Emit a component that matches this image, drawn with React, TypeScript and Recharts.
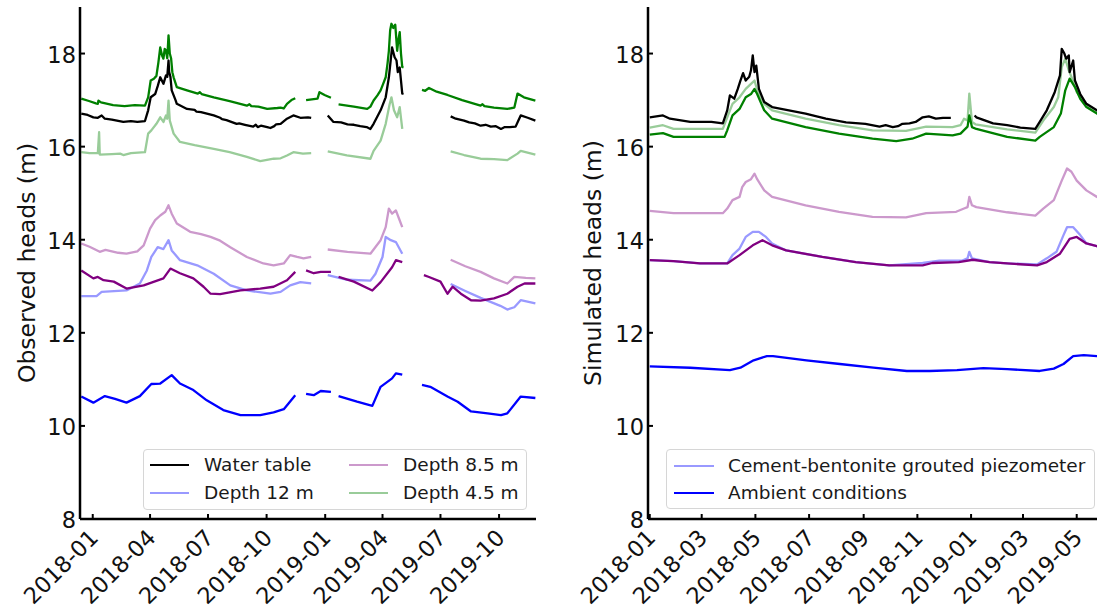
import React from 'react';
import { LineChart, Line, XAxis, YAxis, Legend } from 'recharts';

type P = [string, number | null];

// ---------- axis settings ----------
const leftTickLabels = ['2018-01', '2018-04', '2018-07', '2018-10', '2019-01', '2019-04', '2019-07', '2019-10'];
const rightTickLabels = ['2018-01', '2018-03', '2018-05', '2018-07', '2018-09', '2018-11', '2019-01', '2019-03', '2019-05'];
const yTicks = [8, 10, 12, 14, 16, 18];
const yDomain: [number, number] = [8, 19];
const leftDomainDates = ['2017-12-12', '2019-11-28'];
const rightDomainDates = ['2017-12-30', '2019-06-01'];

// ---------- observed heads (left panel) ----------
const obsDarkGreen: P[] = [
  ['2017-12-14', 17.03], ['2017-12-26', 16.98], ['2018-01-06', 16.93], ['2018-01-09', 16.92], ['2018-01-10', 16.99],
  ['2018-01-14', 16.95], ['2018-02-02', 16.89], ['2018-02-20', 16.87], ['2018-03-08', 16.89], ['2018-03-24', 16.88],
  ['2018-03-29', 17.06], ['2018-04-02', 17.42], ['2018-04-07', 17.46], ['2018-04-11', 17.52], ['2018-04-14', 17.8],
  ['2018-04-17', 18.13], ['2018-04-20', 17.95], ['2018-04-22', 17.89], ['2018-04-24', 18.1], ['2018-04-26', 18.06],
  ['2018-04-28', 17.9], ['2018-04-30', 18.39], ['2018-05-02', 18.0], ['2018-05-04', 17.9], ['2018-05-06', 17.6],
  ['2018-05-08', 17.49], ['2018-05-13', 17.28], ['2018-05-29', 17.21], ['2018-06-15', 17.14], ['2018-06-18', 17.17],
  ['2018-06-21', 17.13], ['2018-07-10', 17.06], ['2018-08-04', 16.98], ['2018-08-31', 16.88], ['2018-09-04', 16.91],
  ['2018-09-07', 16.87], ['2018-09-18', 16.86], ['2018-10-02', 16.81], ['2018-10-18', 16.83],
  ['2018-10-23', 16.84], ['2018-10-28', 16.82], ['2018-11-02', 16.92], ['2018-11-09', 17.0], ['2018-11-15', 17.04],
  ['2018-11-25', null],
  ['2018-12-02', 17.0], ['2018-12-14', 17.02], ['2018-12-20', 17.03], ['2018-12-23', 17.17], ['2018-12-31', 17.11],
  ['2019-01-10', 17.05],
  ['2019-01-16', null],
  ['2019-01-22', 16.91], ['2019-02-15', 16.86], ['2019-03-08', 16.81], ['2019-03-13', 16.86], ['2019-03-18', 16.99],
  ['2019-03-24', 17.1], ['2019-03-29', 17.21], ['2019-04-02', 17.35], ['2019-04-06', 17.49], ['2019-04-09', 17.8],
  ['2019-04-11', 18.06], ['2019-04-13', 18.5], ['2019-04-15', 18.64], ['2019-04-18', 18.55], ['2019-04-21', 18.62],
  ['2019-04-24', 18.06], ['2019-04-26', 18.3], ['2019-04-28', 18.46], ['2019-04-30', 18.0], ['2019-05-02', 17.71],
  ['2019-05-04', 17.7],
  ['2019-05-18', null],
  ['2019-06-02', 17.22], ['2019-06-07', 17.2], ['2019-06-13', 17.26], ['2019-06-25', 17.18], ['2019-07-12', 17.11],
  ['2019-08-04', 17.0], ['2019-09-02', 16.88], ['2019-09-05', 16.91], ['2019-09-08', 16.87], ['2019-09-23', 16.84],
  ['2019-10-14', 16.81], ['2019-10-21', 16.83],
  ['2019-10-25', 16.84], ['2019-10-30', 17.14], ['2019-11-09', 17.06], ['2019-11-27', 16.99],
];

const obsWaterTable: P[] = [
  ['2017-12-14', 16.71], ['2017-12-24', 16.68], ['2018-01-02', 16.63], ['2018-01-09', 16.62], ['2018-01-15', 16.67],
  ['2018-01-20', 16.6], ['2018-01-31', 16.58], ['2018-02-18', 16.53], ['2018-03-02', 16.55], ['2018-03-12', 16.53],
  ['2018-03-24', 16.55], ['2018-03-29', 16.78], ['2018-04-02', 17.06], ['2018-04-09', 17.13], ['2018-04-13', 17.3],
  ['2018-04-17', 17.49], ['2018-04-22', 17.35], ['2018-04-26', 17.53], ['2018-04-28', 17.5], ['2018-04-30', 17.85],
  ['2018-05-01', 17.6], ['2018-05-03', 17.5], ['2018-05-05', 17.21], ['2018-05-11', 17.0], ['2018-05-13', 16.92],
  ['2018-05-29', 16.81], ['2018-06-10', 16.79], ['2018-06-13', 16.75], ['2018-06-20', 16.74], ['2018-07-10', 16.67],
  ['2018-07-20', 16.62], ['2018-07-23', 16.59], ['2018-07-30', 16.57], ['2018-08-15', 16.49], ['2018-08-19', 16.5],
  ['2018-08-28', 16.47], ['2018-09-10', 16.43], ['2018-09-14', 16.47], ['2018-09-17', 16.42], ['2018-09-22', 16.45],
  ['2018-10-02', 16.42], ['2018-10-07', 16.4], ['2018-10-13', 16.44], ['2018-10-16', 16.48], ['2018-10-23', 16.49],
  ['2018-11-02', 16.6], ['2018-11-12', 16.67], ['2018-11-23', 16.62], ['2018-12-05', 16.63],
  ['2018-12-10', 16.62],
  ['2018-12-20', null],
  ['2019-01-05', 16.67], ['2019-01-14', 16.53], ['2019-01-26', 16.52], ['2019-02-05', 16.48], ['2019-02-15', 16.47],
  ['2019-02-25', 16.44], ['2019-03-07', 16.42], ['2019-03-13', 16.38], ['2019-03-18', 16.49], ['2019-03-29', 16.78],
  ['2019-04-06', 17.06], ['2019-04-11', 17.49], ['2019-04-16', 18.13], ['2019-04-20', 17.92], ['2019-04-23', 17.85],
  ['2019-04-25', 17.6], ['2019-04-28', 17.7], ['2019-05-02', 17.14], ['2019-05-04', 17.15],
  ['2019-05-30', null],
  ['2019-07-17', 16.65], ['2019-07-25', 16.6], ['2019-08-07', 16.56], ['2019-08-15', 16.52], ['2019-08-24', 16.5],
  ['2019-09-02', 16.45], ['2019-09-10', 16.47], ['2019-09-18', 16.43], ['2019-09-26', 16.44], ['2019-10-04', 16.38],
  ['2019-10-10', 16.42], ['2019-10-18', 16.42], ['2019-10-27', 16.43], ['2019-10-31', 16.55],
  ['2019-11-04', 16.67], ['2019-11-15', 16.62], ['2019-11-27', 16.56],
];

const obsDepth45: P[] = [
  ['2017-12-14', 15.88], ['2017-12-27', 15.86], ['2018-01-09', 15.86], ['2018-01-11', 16.31], ['2018-01-12', 15.83],
  ['2018-01-31', 15.84], ['2018-02-13', 15.85], ['2018-02-18', 15.82], ['2018-03-02', 15.86], ['2018-03-24', 15.88],
  ['2018-03-29', 16.28], ['2018-04-03', 16.35], ['2018-04-11', 16.49], ['2018-04-17', 16.63], ['2018-04-22', 16.53],
  ['2018-04-26', 16.67], ['2018-04-28', 16.6], ['2018-04-30', 16.99], ['2018-05-02', 16.56], ['2018-05-08', 16.28],
  ['2018-05-18', 16.1], ['2018-06-10', 16.03], ['2018-07-10', 15.95], ['2018-08-04', 15.88], ['2018-08-31', 15.78],
  ['2018-09-21', 15.69], ['2018-10-12', 15.74], ['2018-10-23', 15.75], ['2018-11-02', 15.81], ['2018-11-12', 15.88],
  ['2018-11-27', 15.85], ['2018-12-10', 15.86],
  ['2018-12-20', null],
  ['2019-01-05', 15.9], ['2019-02-04', 15.81], ['2019-03-13', 15.74], ['2019-03-18', 15.91], ['2019-03-29', 16.13],
  ['2019-04-06', 16.49], ['2019-04-12', 16.9], ['2019-04-15', 17.06], ['2019-04-19', 16.78], ['2019-04-24', 16.63],
  ['2019-04-28', 16.85], ['2019-05-02', 16.38],
  ['2019-05-30', null],
  ['2019-07-17', 15.9], ['2019-08-07', 15.82], ['2019-09-02', 15.74], ['2019-09-23', 15.73], ['2019-10-14', 15.71],
  ['2019-10-30', 15.85], ['2019-11-04', 15.91], ['2019-11-27', 15.83],
];

const obsDepth85: P[] = [
  ['2017-12-14', 13.92], ['2017-12-27', 13.85], ['2018-01-12', 13.74], ['2018-01-21', 13.78], ['2018-02-10', 13.72],
  ['2018-02-23', 13.7], ['2018-03-12', 13.75], ['2018-03-22', 13.88], ['2018-04-01', 14.24], ['2018-04-09', 14.42],
  ['2018-04-17', 14.52], ['2018-04-25', 14.6], ['2018-04-30', 14.74], ['2018-05-05', 14.56], ['2018-05-13', 14.35],
  ['2018-06-03', 14.17], ['2018-06-20', 14.12], ['2018-07-05', 14.06], ['2018-07-20', 13.98], ['2018-08-05', 13.84],
  ['2018-08-31', 13.63], ['2018-09-26', 13.49], ['2018-10-12', 13.45], ['2018-10-28', 13.49], ['2018-11-07', 13.67],
  ['2018-11-18', 13.63], ['2018-11-28', 13.6], ['2018-12-10', 13.63],
  ['2018-12-20', null],
  ['2019-01-05', 13.79], ['2019-02-05', 13.74], ['2019-03-13', 13.7], ['2019-03-29', 13.99], ['2019-04-06', 14.27],
  ['2019-04-11', 14.67], ['2019-04-16', 14.56], ['2019-04-22', 14.63], ['2019-04-27', 14.45], ['2019-05-02', 14.27],
  ['2019-05-30', null],
  ['2019-07-17', 13.57], ['2019-08-09', 13.43], ['2019-09-02', 13.31], ['2019-09-23', 13.17], ['2019-10-14', 13.06],
  ['2019-10-25', 13.2], ['2019-11-12', 13.18], ['2019-11-27', 13.17],
];

const obsDepth12: P[] = [
  ['2017-12-14', 12.79], ['2018-01-07', 12.79], ['2018-01-15', 12.88], ['2018-02-23', 12.91], ['2018-03-16', 13.06],
  ['2018-03-27', 13.34], ['2018-04-03', 13.63], ['2018-04-13', 13.84], ['2018-04-22', 13.8], ['2018-04-30', 13.99],
  ['2018-05-05', 13.77], ['2018-05-18', 13.56], ['2018-06-14', 13.45], ['2018-07-10', 13.27], ['2018-08-05', 13.02],
  ['2018-08-31', 12.91], ['2018-10-07', 12.84], ['2018-10-23', 12.88], ['2018-11-07', 13.02], ['2018-11-23', 13.09],
  ['2018-12-10', 13.06],
  ['2018-12-20', null],
  ['2019-01-05', 13.24], ['2019-02-05', 13.14], ['2019-03-13', 13.12], ['2019-03-21', 13.27], ['2019-04-01', 13.63],
  ['2019-04-06', 14.06], ['2019-04-14', 13.99], ['2019-04-22', 13.95], ['2019-05-02', 13.7],
  ['2019-05-30', null],
  ['2019-07-17', 13.05], ['2019-08-09', 12.9], ['2019-09-02', 12.75], ['2019-10-03', 12.58], ['2019-10-14', 12.5],
  ['2019-10-25', 12.55], ['2019-11-04', 12.7], ['2019-11-27', 12.63],
];

const obsDarkPurple: P[] = [
  ['2017-12-14', 13.34], ['2018-01-02', 13.17], ['2018-01-09', 13.2], ['2018-01-18', 13.13], ['2018-02-03', 13.1],
  ['2018-02-23', 12.95], ['2018-03-22', 13.02], ['2018-04-22', 13.17], ['2018-05-03', 13.38], ['2018-05-18', 13.28],
  ['2018-06-08', 13.17], ['2018-06-24', 12.99], ['2018-07-05', 12.84], ['2018-07-20', 12.83], ['2018-08-21', 12.91],
  ['2018-09-21', 12.95], ['2018-10-12', 12.99], ['2018-11-02', 13.13], ['2018-11-15', 13.31],
  ['2018-11-25', null],
  ['2018-12-02', 13.34], ['2018-12-14', 13.28], ['2018-12-25', 13.31], ['2019-01-10', 13.31],
  ['2019-01-16', null],
  ['2019-01-22', 13.2], ['2019-02-15', 13.1], ['2019-03-16', 12.91], ['2019-03-29', 13.09], ['2019-04-16', 13.41],
  ['2019-04-22', 13.56], ['2019-05-02', 13.52],
  ['2019-05-18', null],
  ['2019-06-05', 13.24], ['2019-06-13', 13.2], ['2019-07-01', 13.1], ['2019-07-12', 12.84], ['2019-07-20', 12.99],
  ['2019-08-02', 12.84], ['2019-08-18', 12.7], ['2019-09-02', 12.69], ['2019-09-23', 12.74], ['2019-10-14', 12.84],
  ['2019-10-30', 12.99], ['2019-11-10', 13.06], ['2019-11-27', 13.06],
];

const obsDarkBlue: P[] = [
  ['2017-12-14', 10.63], ['2018-01-02', 10.5], ['2018-01-20', 10.64], ['2018-02-05', 10.58], ['2018-02-23', 10.5],
  ['2018-03-16', 10.64], ['2018-04-03', 10.9], ['2018-04-17', 10.91], ['2018-05-05', 11.09], ['2018-05-18', 10.91],
  ['2018-06-08', 10.77], ['2018-06-29', 10.55], ['2018-07-25', 10.34], ['2018-08-21', 10.23], ['2018-09-21', 10.23],
  ['2018-10-12', 10.29], ['2018-10-28', 10.36], ['2018-11-15', 10.66],
  ['2018-11-25', null],
  ['2018-12-02', 10.69], ['2018-12-14', 10.66], ['2018-12-25', 10.75], ['2019-01-10', 10.73],
  ['2019-01-16', null],
  ['2019-01-22', 10.64], ['2019-02-20', 10.52], ['2019-03-16', 10.43], ['2019-03-29', 10.84], ['2019-04-16', 11.02],
  ['2019-04-22', 11.13], ['2019-05-02', 11.1],
  ['2019-05-18', null],
  ['2019-06-02', 10.88], ['2019-06-15', 10.84], ['2019-07-12', 10.63], ['2019-07-28', 10.52], ['2019-08-18', 10.31],
  ['2019-09-13', 10.27], ['2019-10-04', 10.23], ['2019-10-14', 10.27], ['2019-11-04', 10.63], ['2019-11-27', 10.6],
];

// ---------- simulated heads (right panel) ----------
const simWaterTable: P[] = [
  ['2018-01-01', 16.63], ['2018-01-16', 16.67], ['2018-01-24', 16.6], ['2018-02-16', 16.53], ['2018-03-12', 16.53],
  ['2018-03-25', 16.5], ['2018-03-30', 16.78], ['2018-04-02', 17.1], ['2018-04-07', 17.03], ['2018-04-11', 17.24],
  ['2018-04-14', 17.42], ['2018-04-17', 17.58], ['2018-04-20', 17.42], ['2018-04-24', 17.5], ['2018-04-26', 17.64],
  ['2018-04-28', 17.96], ['2018-04-30', 17.6], ['2018-05-02', 17.74], ['2018-05-05', 17.24], ['2018-05-11', 16.96],
  ['2018-05-20', 16.85], ['2018-06-08', 16.78], ['2018-06-27', 16.71], ['2018-07-20', 16.6], ['2018-08-12', 16.52],
  ['2018-09-03', 16.49], ['2018-09-19', 16.43], ['2018-09-26', 16.46], ['2018-10-04', 16.42], ['2018-10-10', 16.44],
  ['2018-10-15', 16.49], ['2018-10-23', 16.5],
  ['2018-10-30', 16.53], ['2018-11-07', 16.63], ['2018-11-14', 16.65], ['2018-11-22', 16.6], ['2018-11-30', 16.62],
  ['2018-12-09', 16.62],
  ['2018-12-20', null],
  ['2019-01-05', 16.67], ['2019-01-07', 16.63], ['2019-01-26', 16.5], ['2019-02-11', 16.46], ['2019-02-26', 16.41],
  ['2019-03-15', 16.38], ['2019-03-20', 16.53], ['2019-03-28', 16.78], ['2019-04-06', 17.17], ['2019-04-12', 17.53],
  ['2019-04-14', 18.1], ['2019-04-17', 18.0], ['2019-04-19', 17.89], ['2019-04-22', 17.96], ['2019-04-23', 17.6],
  ['2019-04-27', 17.85], ['2019-04-29', 17.42], ['2019-05-05', 17.13], ['2019-05-12', 16.92], ['2019-05-24', 16.78],
  ['2019-06-01', 16.7],
];

const simDepth45: P[] = [
  ['2018-01-01', 16.41], ['2018-01-16', 16.46], ['2018-01-28', 16.38], ['2018-03-25', 16.38], ['2018-03-30', 16.63],
  ['2018-04-05', 16.92], ['2018-04-13', 17.06], ['2018-04-20', 17.24], ['2018-04-26', 17.35], ['2018-04-30', 17.42],
  ['2018-05-03', 17.21], ['2018-05-11', 16.92], ['2018-05-20', 16.78], ['2018-06-27', 16.6], ['2018-08-04', 16.46],
  ['2018-09-11', 16.35], ['2018-10-19', 16.34], ['2018-11-11', 16.43], ['2018-12-11', 16.42], ['2018-12-20', 16.46],
  ['2018-12-24', 16.6], ['2018-12-28', 16.56], ['2018-12-30', 17.14], ['2019-01-02', 16.53], ['2019-01-06', 16.48],
  ['2019-02-11', 16.37], ['2019-03-15', 16.3], ['2019-03-24', 16.56], ['2019-04-05', 16.85], ['2019-04-10', 17.06],
  ['2019-04-14', 17.71], ['2019-04-18', 17.89], ['2019-04-22', 17.64], ['2019-04-25', 17.5], ['2019-05-01', 17.17],
  ['2019-05-11', 16.92], ['2019-05-24', 16.74], ['2019-06-01', 16.66],
];

const simDarkGreen: P[] = [
  ['2018-01-01', 16.26], ['2018-01-16', 16.29], ['2018-01-28', 16.21], ['2018-03-27', 16.21], ['2018-03-30', 16.35],
  ['2018-04-05', 16.67], ['2018-04-13', 16.81], ['2018-04-20', 17.06], ['2018-04-26', 17.13], ['2018-04-30', 17.24],
  ['2018-05-03', 17.13], ['2018-05-11', 16.78], ['2018-05-20', 16.6], ['2018-06-27', 16.42], ['2018-08-04', 16.28],
  ['2018-09-11', 16.17], ['2018-10-08', 16.12], ['2018-10-26', 16.17], ['2018-11-11', 16.28], ['2018-12-11', 16.24],
  ['2018-12-20', 16.28], ['2018-12-28', 16.43], ['2018-12-30', 16.67], ['2019-01-02', 16.42], ['2019-01-07', 16.38],
  ['2019-02-11', 16.21], ['2019-03-15', 16.13], ['2019-03-20', 16.21], ['2019-04-05', 16.42], ['2019-04-13', 16.71],
  ['2019-04-18', 17.21], ['2019-04-23', 17.46], ['2019-04-29', 17.28], ['2019-05-05', 17.03], ['2019-05-12', 16.85],
  ['2019-05-24', 16.71], ['2019-06-01', 16.6],
];

const simDepth85: P[] = [
  ['2018-01-01', 14.62], ['2018-01-28', 14.57], ['2018-03-25', 14.57], ['2018-03-30', 14.67], ['2018-04-05', 14.85],
  ['2018-04-13', 14.92], ['2018-04-16', 15.13], ['2018-04-20', 15.24], ['2018-04-26', 15.3], ['2018-04-30', 15.42],
  ['2018-05-03', 15.3], ['2018-05-11', 15.06], ['2018-05-20', 14.92], ['2018-06-27', 14.74], ['2018-08-04', 14.6],
  ['2018-09-11', 14.49], ['2018-10-19', 14.48], ['2018-11-11', 14.57], ['2018-12-15', 14.6], ['2018-12-24', 14.67],
  ['2018-12-28', 14.7], ['2018-12-30', 14.92], ['2019-01-02', 14.74], ['2019-01-07', 14.7], ['2019-02-11', 14.59],
  ['2019-03-15', 14.52], ['2019-03-24', 14.67], ['2019-04-05', 14.85], ['2019-04-14', 15.27], ['2019-04-20', 15.53],
  ['2019-04-25', 15.46], ['2019-05-01', 15.27], ['2019-05-12', 15.06], ['2019-05-24', 14.92], ['2019-06-01', 14.85],
];

const simGrouted: P[] = [
  ['2018-01-01', 13.56], ['2018-01-28', 13.54], ['2018-02-27', 13.49], ['2018-03-30', 13.49], ['2018-04-05', 13.67],
  ['2018-04-13', 13.81], ['2018-04-20', 14.06], ['2018-04-28', 14.17], ['2018-05-05', 14.17], ['2018-05-13', 14.06],
  ['2018-05-20', 13.92], ['2018-06-05', 13.77], ['2018-07-16', 13.63], ['2018-08-23', 13.52], ['2018-09-30', 13.45],
  ['2018-11-07', 13.5], ['2018-11-26', 13.55], ['2018-12-22', 13.55], ['2018-12-28', 13.6], ['2018-12-30', 13.74],
  ['2019-01-02', 13.6], ['2019-01-22', 13.52], ['2019-02-11', 13.49], ['2019-03-17', 13.47], ['2019-03-28', 13.6],
  ['2019-04-08', 13.74], ['2019-04-16', 14.1], ['2019-04-20', 14.27], ['2019-04-27', 14.27], ['2019-05-05', 14.1],
  ['2019-05-12', 13.92], ['2019-05-24', 13.86], ['2019-06-01', 13.8],
];

const simDarkPurple: P[] = [
  ['2018-01-01', 13.56], ['2018-01-28', 13.54], ['2018-02-27', 13.49], ['2018-03-30', 13.49], ['2018-04-13', 13.67],
  ['2018-04-28', 13.88], ['2018-05-09', 13.99], ['2018-05-20', 13.88], ['2018-06-05', 13.77], ['2018-07-16', 13.63],
  ['2018-08-23', 13.52], ['2018-09-30', 13.45], ['2018-11-07', 13.45], ['2018-11-18', 13.5], ['2018-12-18', 13.52],
  ['2019-01-03', 13.57], ['2019-01-22', 13.52], ['2019-02-11', 13.49], ['2019-03-17', 13.45], ['2019-03-28', 13.52],
  ['2019-04-12', 13.7], ['2019-04-23', 14.02], ['2019-05-01', 14.06], ['2019-05-12', 13.92], ['2019-05-24', 13.86],
  ['2019-06-01', 13.8],
];

const simAmbient: P[] = [
  ['2018-01-01', 11.28], ['2018-02-16', 11.25], ['2018-04-02', 11.2], ['2018-04-14', 11.25], ['2018-04-29', 11.41],
  ['2018-05-14', 11.5], ['2018-05-21', 11.5], ['2018-06-28', 11.41], ['2018-08-05', 11.33], ['2018-09-12', 11.25],
  ['2018-10-20', 11.18], ['2018-11-15', 11.18], ['2018-12-16', 11.2], ['2018-12-31', 11.22], ['2019-01-15', 11.24],
  ['2019-02-11', 11.22], ['2019-03-20', 11.18], ['2019-04-05', 11.23], ['2019-04-16', 11.33], ['2019-04-27', 11.5],
  ['2019-05-09', 11.52], ['2019-05-24', 11.5], ['2019-06-01', 11.48],
];

// ---------- legends ----------
const leftLegendLabels = ['Water table', 'Depth 12 m', 'Depth 8.5 m', 'Depth 4.5 m'];
const rightLegendLabels = ['Cement-bentonite grouted piezometer', 'Ambient conditions'];

// ---------- colours ----------
const C = {
  black: '#000000',
  darkGreen: '#008000',
  lightGreen: '#99cc99',
  lightPurple: '#cc99cc',
  darkPurple: '#800080',
  lightBlue: '#9999ff',
  darkBlue: '#0000ff',
};
const FONT = '"DejaVu Sans", Verdana, sans-serif';

const ts = (d: string) => Date.parse(d + 'T00:00:00Z');
const rows = (pts: P[]) => pts.map(([d, v]) => ({ t: ts(d), v }));
const fmtMonth = (t: number) => {
  const d = new Date(t);
  return `${d.getUTCFullYear()}-${String(d.getUTCMonth() + 1).padStart(2, '0')}`;
};

const XTick = (props: any) => {
  const { x, y, payload } = props;
  const ax = x + 7;
  return (
    <text x={ax} y={y} transform={`rotate(-45, ${ax}, ${y})`} textAnchor="end" fontSize={22.5} fontFamily={FONT} fill="#111">
      {fmtMonth(payload.value)}
    </text>
  );
};

const YTick = (props: any) => {
  const { x, y, payload } = props;
  return (
    <text x={x} y={y} dy="0.42em" textAnchor="end" fontSize={22.5} fontFamily={FONT} fill="#111">
      {payload.value}
    </text>
  );
};

const yLabel = (text: string, dx: number) => (props: any) => {
  const vb = props.viewBox || { x: 0, y: 0, width: 0, height: 0 };
  const cx = vb.x + dx;
  const cy = vb.y + vb.height / 2;
  return (
    <text x={cx} y={cy} transform={`rotate(-90, ${cx}, ${cy})`} textAnchor="middle" fontSize={23.5} fontFamily={FONT} fill="#111">
      {text}
    </text>
  );
};

type LegItem = { label: string; color: string };
const LegendBox = ({ items, width, height, colX, rowY, handleLen, textGap, perCol }: {
  items: LegItem[]; width: number; height: number; colX: number[]; rowY: number[]; handleLen: number; textGap: number; perCol: number;
}) => (
  <div style={{ position: 'relative', width, height, boxSizing: 'border-box', border: '1px solid #d6d6d6', borderRadius: 4, background: 'rgba(255,255,255,0.85)' }}>
    {items.map((it, i) => {
      const col = Math.floor(i / perCol);
      const row = i % perCol;
      return (
        <div key={it.label} style={{ position: 'absolute', left: colX[col], top: rowY[row] - 13, height: 26, display: 'flex', alignItems: 'center', whiteSpace: 'nowrap' }}>
          <span style={{ display: 'inline-block', width: handleLen, height: 2, background: it.color }} />
          <span style={{ marginLeft: textGap, fontFamily: FONT, fontSize: 18.5, color: '#1a1a1a', lineHeight: '26px' }}>{it.label}</span>
        </div>
      );
    })}
  </div>
);

const axisLineStyle = { stroke: '#000', strokeWidth: 2.5 };
const tickLineStyle = { stroke: '#000', strokeWidth: 2 };

const Series = (pts: P[], color: string, key: string) => (
  <Line key={key} data={rows(pts)} dataKey="v" stroke={color} strokeWidth={2.3} dot={false} activeDot={false}
    isAnimationActive={false} connectNulls={false} strokeLinejoin="round" legendType="none" />
);

const Panel = ({ domainDates, tickLabels, label, labelDx, yAxisWidth, marginRight, legend, series }: any) => {
  const domain = [ts(domainDates[0]), ts(domainDates[1])];
  const ticks = tickLabels.map((m: string) => ts(m + '-01'));
  return (
    <LineChart width={560} height={611} margin={{ top: 7, right: marginRight, bottom: 0, left: 0 }}>
      <XAxis type="number" dataKey="t" domain={domain} ticks={ticks} interval={0} allowDataOverflow
        height={92} tickSize={-5} tickMargin={25} tick={<XTick />} axisLine={axisLineStyle} tickLine={tickLineStyle} />
      <XAxis xAxisId="top" orientation="top" type="number" dataKey="t" domain={domain} allowDataOverflow
        height={0} tick={false} tickLine={false} axisLine={axisLineStyle} />
      <YAxis type="number" domain={yDomain} ticks={yTicks} interval={0} allowDataOverflow width={yAxisWidth}
        tickSize={-5} tickMargin={9} tick={<YTick />} axisLine={axisLineStyle} tickLine={tickLineStyle}
        label={yLabel(label, labelDx)} />
      <YAxis yAxisId="right" orientation="right" type="number" domain={yDomain} allowDataOverflow width={0}
        tick={false} tickLine={false} axisLine={axisLineStyle} />
      {series}
      <Legend verticalAlign="middle" align="center" layout="horizontal" content={() => legend.node}
        wrapperStyle={{ position: 'absolute', left: legend.left, top: legend.top, width: legend.width, height: legend.height }} />
    </LineChart>
  );
};

export default function App() {
  const leftItems: LegItem[] = [
    { label: leftLegendLabels[0], color: C.black },
    { label: leftLegendLabels[1], color: C.lightBlue },
    { label: leftLegendLabels[2], color: C.lightPurple },
    { label: leftLegendLabels[3], color: C.lightGreen },
  ];
  const rightItems: LegItem[] = [
    { label: rightLegendLabels[0], color: C.lightBlue },
    { label: rightLegendLabels[1], color: C.darkBlue },
  ];

  const leftSeries = [
    Series(obsDepth45, C.lightGreen, 'o1'),
    Series(obsDepth85, C.lightPurple, 'o2'),
    Series(obsDepth12, C.lightBlue, 'o3'),
    Series(obsDarkBlue, C.darkBlue, 'o4'),
    Series(obsDarkPurple, C.darkPurple, 'o5'),
    Series(obsDarkGreen, C.darkGreen, 'o6'),
    Series(obsWaterTable, C.black, 'o7'),
  ];
  const rightSeries = [
    Series(simDepth85, C.lightPurple, 's1'),
    Series(simGrouted, C.lightBlue, 's2'),
    Series(simDarkPurple, C.darkPurple, 's3'),
    Series(simAmbient, C.darkBlue, 's4'),
    Series(simDepth45, C.lightGreen, 's5'),
    Series(simDarkGreen, C.darkGreen, 's6'),
    Series(simWaterTable, C.black, 's7'),
  ];

  return (
    <div style={{ position: 'absolute', left: 0, top: 0, width: 1097, height: 611, overflow: 'hidden', background: '#fff' }}>
      <div style={{ position: 'absolute', left: 0, top: 0 }}>
        <Panel domainDates={leftDomainDates} tickLabels={leftTickLabels} label="Observed heads (m)" labelDx={35}
          yAxisWidth={80} marginRight={24} series={leftSeries}
          legend={{
            left: 143, top: 449, width: 384, height: 61,
            node: <LegendBox items={leftItems} width={384} height={61} colX={[6, 205]} rowY={[15, 43]} handleLen={39} textGap={15} perCol={2} />,
          }} />
      </div>
      <div style={{ position: 'absolute', left: 560, top: 0 }}>
        <Panel domainDates={rightDomainDates} tickLabels={rightTickLabels} label="Simulated heads (m)" labelDx={41}
          yAxisWidth={88} marginRight={16} series={rightSeries}
          legend={{
            left: 106, top: 449, width: 429, height: 60,
            node: <LegendBox items={rightItems} width={429} height={60} colX={[7]} rowY={[15.5, 43]} handleLen={40} textGap={14} perCol={2} />,
          }} />
      </div>
    </div>
  );
}
